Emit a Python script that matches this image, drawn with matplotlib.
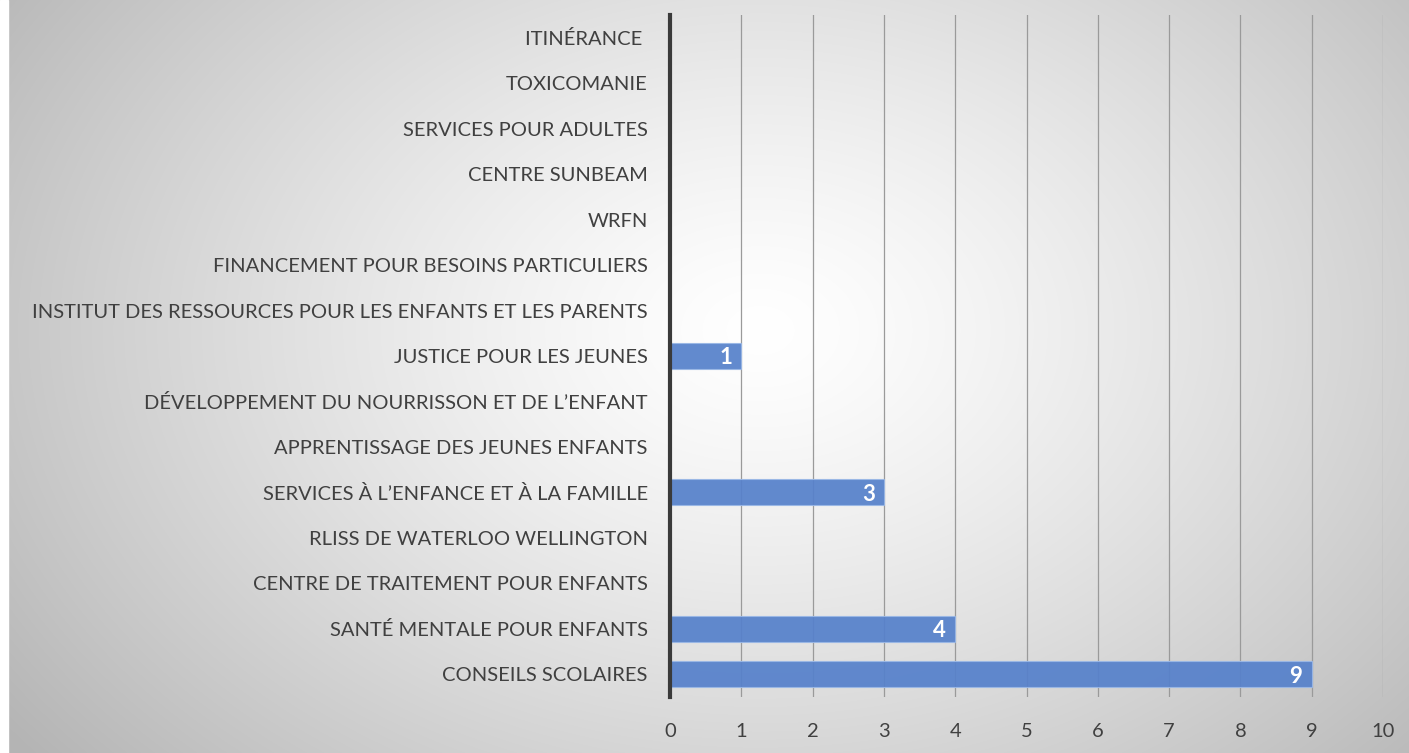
import numpy as np
import matplotlib
matplotlib.use("Agg")
import matplotlib.pyplot as plt
from matplotlib.patches import Rectangle

categories = [
    "CONSEILS SCOLAIRES",
    "SANTÉ MENTALE POUR ENFANTS",
    "CENTRE DE TRAITEMENT POUR ENFANTS",
    "RLISS DE WATERLOO WELLINGTON",
    "SERVICES À L’ENFANCE ET À LA FAMILLE",
    "APPRENTISSAGE DES JEUNES ENFANTS",
    "DÉVELOPPEMENT DU NOURRISSON ET DE L’ENFANT",
    "JUSTICE POUR LES JEUNES",
    "INSTITUT DES RESSOURCES POUR LES ENFANTS ET LES PARENTS",
    "FINANCEMENT POUR BESOINS PARTICULIERS",
    "WRFN",
    "CENTRE SUNBEAM",
    "SERVICES POUR ADULTES",
    "TOXICOMANIE",
    "ITINÉRANCE ",
]
values = [9, 4, 0, 0, 3, 0, 0, 1, 0, 0, 0, 0, 0, 0, 0]
xticks = [0, 1, 2, 3, 4, 5, 6, 7, 8, 9, 10]

plt.rcParams['font.family'] = ['Lato', 'DejaVu Sans']

W, H = 1409, 753
fig = plt.figure(figsize=(W / 100, H / 100), dpi=100)

# radial gradient background
bg = fig.add_axes([0, 0, 1, 1], zorder=-10)
yy, xx = np.mgrid[0:H, 0:W]
cx, cy = 760, 330
r = np.sqrt(((xx - cx) / 780.0) ** 2 + ((yy - cy) / 560.0) ** 2)
v = 1.0 - 0.23 * np.clip(r, 0, 1.2) ** 1.3
img = np.dstack([v, v, v])
bg.imshow(img, aspect='auto', extent=[0, W, H, 0], interpolation='bilinear')
bg.add_patch(Rectangle((0, 0), 8, H, color='white', zorder=5))
bg.set_xlim(0, W)
bg.set_ylim(H, 0)
bg.axis('off')

ax = fig.add_axes([670 / W, 1 - 697 / H, (1383 - 670) / W, (697 - 15) / H])
ax.patch.set_alpha(0)

y = np.arange(len(categories))
for yi, val in zip(y, values):
    if val > 0:
        ax.barh(yi, val, height=0.57, color='#5681cb', alpha=0.93,
                edgecolor='#9ab8e6', linewidth=0.8, zorder=3)
        ax.text(val - 0.13, yi - 0.04, str(val), ha='right', va='center',
                color='white', fontweight='bold', fontsize=16, zorder=4)

ax.set_xlim(0, 10)
ax.set_ylim(-0.5, len(categories) - 0.5)
ax.set_xticks(xticks)
ax.set_xticklabels([str(t) for t in xticks])
ax.set_yticks(y)
ax.set_yticklabels(categories)
for lbl in ax.get_yticklabels():
    lbl.set_va('center_baseline')
ax.xaxis.grid(True, color='#9a9a9a', linewidth=0.9, zorder=1)
ax.set_axisbelow(True)
for s in ['top', 'right', 'bottom']:
    ax.spines[s].set_visible(False)
ax.spines['left'].set_color('#3a3a3a')
ax.spines['left'].set_linewidth(3)
ax.spines['left'].set_zorder(5)
ax.tick_params(axis='both', length=0, labelsize=14.5, colors='#404040')
ax.tick_params(axis='x', pad=19)
ax.tick_params(axis='y', pad=16)

fig.savefig('out.png', dpi=100)
